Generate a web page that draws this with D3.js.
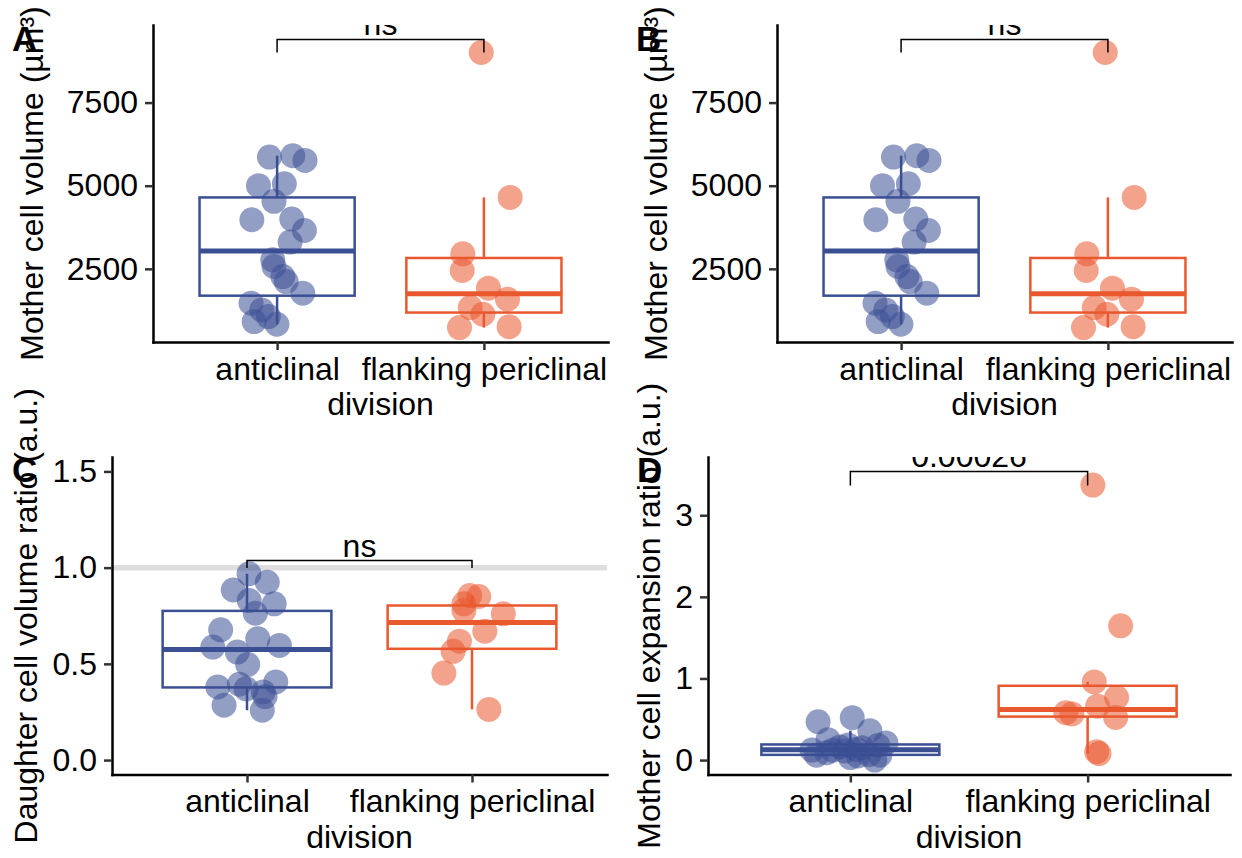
<!DOCTYPE html>
<html>
<head>
<meta charset="utf-8">
<script src="https://cdn.jsdelivr.net/npm/d3@7"></script>
<style>
  body { margin: 0; background: white; }
  svg { display: block; font-family: "Liberation Sans", Arial, sans-serif; }
</style>
</head>
<body>
<div id="chart"></div>
<script>
// categories
const divisions = ["anticlinal", "flanking periclinal"];

// mother cell volume (um^3), panels A and B
const volAnti = [5860, 5900, 5760, 5000, 5060, 4530, 3976, 3997, 3654, 3304, 2771, 2570, 2268, 2118, 1768, 1467, 1265, 913, 1063, 834];
const volAntiJitter = [-0.037, 0.076, 0.135, -0.09, 0.035, -0.015, -0.122, 0.071, 0.132, 0.063, -0.021, -0.015, 0.028, 0.044, 0.124, -0.126, -0.074, -0.111, -0.042, -0.001];
const volFlank = [9006, 4648, 2952, 2450, 1919, 1587, 1336, 1135, 733, 762];
const volFlankJitter = [-0.013, 0.127, -0.102, -0.105, 0.022, 0.114, -0.066, -0.005, -0.118, 0.122];

// daughter cell volume ratio, panel C
const ratioAnti = [0.968, 0.924, 0.884, 0.829, 0.812, 0.763, 0.677, 0.587, 0.631, 0.596, 0.561, 0.497, 0.380, 0.394, 0.406, 0.354, 0.259, 0.285, 0.330, 0.370];
const ratioAntiJitter = [0.009, 0.09, -0.061, 0.01, 0.121, 0.037, -0.117, -0.152, 0.048, 0.144, -0.043, 0.003, -0.13, -0.034, 0.128, 0.072, 0.068, -0.102, 0.08, -0.004];
const ratioFlank = [0.855, 0.85, 0.812, 0.777, 0.760, 0.670, 0.618, 0.565, 0.452, 0.263];
const ratioFlankJitter = [-0.01, 0.03, -0.036, -0.036, 0.139, 0.057, -0.056, -0.084, -0.125, 0.075];

// mother cell expansion ratio, panel D
const expAnti = [0.52, 0.47, 0.36, 0.25, 0.21, 0.185, 0.18, 0.16, 0.15, 0.13, 0.122, 0.12, 0.11, 0.09, 0.065, 0.06, 0.06, 0.05, 0.03, 0.00];
const expAntiJitter = [0.008, -0.136, 0.082, -0.094, 0.15, -0.009, 0.116, -0.044, 0.049, 0.026, -0.162, -0.074, -0.023, -0.1, 0.078, -0.143, 0.124, 0.032, 0.0, 0.103];
const expFlank = [3.37, 1.645, 0.958, 0.767, 0.661, 0.58, 0.565, 0.522, 0.102, 0.08];
const expFlankJitter = [0.022, 0.139, 0.028, 0.122, 0.042, -0.092, -0.066, 0.118, 0.038, 0.048];

// tick labels
const volTicks = [2500, 5000, 7500];
const ratioTicks = [0, 0.5, 1.0, 1.5];
const expTicks = [0, 1, 2, 3];
const ratioLimits = [0, 1.5];
const ratioRef = 1.0;

// significance brackets: A, B, C, D
const sigLabels = ["ns", "ns", "ns", "0.00026"];
const sigBar = [9400, 9400, 1.037, 3.537];
const sigTip = [9006, 9006, 0.998, 3.366];

const colors = ["#3B4F93", "#E9582E"];
const fontSize = 32;

const svg = d3.select("#chart").append("svg")
  .attr("width", 1242)
  .attr("height", 858);

const panels = [
  { tag: "A", left: 153, right: 608, top: 25, bottom: 342, titleX: 43, tagX: 12, tagY: 51,
    title: "Mother cell volume (\u00b5m\u00b3)", groups: [[volAnti, volAntiJitter], [volFlank, volFlankJitter]],
    ticks: volTicks, fmt: d3.format("d"), sig: 0 },
  { tag: "B", left: 777, right: 1232, top: 25, bottom: 342, titleX: 667, tagX: 636, tagY: 51,
    title: "Mother cell volume (\u00b5m\u00b3)", groups: [[volAnti, volAntiJitter], [volFlank, volFlankJitter]],
    ticks: volTicks, fmt: d3.format("d"), sig: 1 },
  { tag: "C", left: 112, right: 607, top: 457, bottom: 774.5, titleX: 37, tagX: 12, tagY: 482,
    title: "Daughter cell volume ratio (a.u.)", groups: [[ratioAnti, ratioAntiJitter], [ratioFlank, ratioFlankJitter]],
    ticks: ratioTicks, fmt: d3.format(".1f"), sig: 2, limits: ratioLimits, ref: ratioRef },
  { tag: "D", left: 708, right: 1230, top: 457, bottom: 774.5, titleX: 660, tagX: 637, tagY: 482,
    title: "Mother cell expansion ratio (a.u.)", groups: [[expAnti, expAntiJitter], [expFlank, expFlankJitter]],
    ticks: expTicks, fmt: d3.format("d"), sig: 3 }
];

function boxStats(values) {
  const s = values.slice().sort(d3.ascending);
  const q1 = d3.quantile(s, 0.25), med = d3.quantile(s, 0.5), q3 = d3.quantile(s, 0.75);
  const iqr = q3 - q1;
  const lo = d3.min(s.filter(v => v >= q1 - 1.5 * iqr));
  const hi = d3.max(s.filter(v => v <= q3 + 1.5 * iqr));
  return { q1, med, q3, lo, hi };
}

panels.forEach((p, i) => {
  const g = svg.append("g");

  // y domain with ggplot's 5% expansion
  let lims = p.limits;
  if (!lims) {
    const all = p.groups[0][0].concat(p.groups[1][0]);
    lims = [d3.min(all), Math.max(d3.max(all), sigBar[p.sig])];
  }
  const pad = (lims[1] - lims[0]) * 0.05;
  const y = d3.scaleLinear().domain([lims[0] - pad, lims[1] + pad]).range([p.bottom, p.top]);
  const x = d3.scalePoint().domain(divisions).range([p.left, p.right]).padding(0.6);
  const step = x.step();

  const clipId = "clip" + p.tag;
  svg.append("clipPath").attr("id", clipId)
    .append("rect")
    .attr("x", p.left).attr("y", p.top)
    .attr("width", p.right - p.left).attr("height", p.bottom - p.top);

  const plot = g.append("g").attr("clip-path", `url(#${clipId})`);

  if (p.ref !== undefined) {
    plot.append("line")
      .attr("x1", p.left).attr("x2", p.right)
      .attr("y1", y(p.ref)).attr("y2", y(p.ref))
      .attr("stroke", "#DEDEDE")
      .attr("stroke-width", 5.5);
  }

  // boxplots
  p.groups.forEach((grp, k) => {
    const st = boxStats(grp[0]);
    const cx = x(divisions[k]);
    const bw = step * 0.75;
    const col = colors[k];
    plot.append("line")
      .attr("x1", cx).attr("x2", cx).attr("y1", y(st.q3)).attr("y2", y(st.hi))
      .attr("stroke", col).attr("stroke-width", 2.5);
    plot.append("line")
      .attr("x1", cx).attr("x2", cx).attr("y1", y(st.q1)).attr("y2", y(st.lo))
      .attr("stroke", col).attr("stroke-width", 2.5);
    plot.append("rect")
      .attr("x", cx - bw / 2).attr("width", bw)
      .attr("y", y(st.q3)).attr("height", y(st.q1) - y(st.q3))
      .attr("fill", "white").attr("stroke", col).attr("stroke-width", 2.5);
    plot.append("line")
      .attr("x1", cx - bw / 2).attr("x2", cx + bw / 2)
      .attr("y1", y(st.med)).attr("y2", y(st.med))
      .attr("stroke", col).attr("stroke-width", 5);
  });

  // jittered points
  p.groups.forEach((grp, k) => {
    const cx = x(divisions[k]);
    plot.append("g").selectAll("circle")
      .data(grp[0])
      .enter()
      .append("circle")
      .attr("cx", (d, j) => cx + grp[1][j] * step)
      .attr("cy", d => y(d))
      .attr("r", 12.5)
      .attr("fill", colors[k])
      .attr("fill-opacity", 0.55);
  });

  // significance bracket
  const x1 = x(divisions[0]), x2 = x(divisions[1]);
  const s = p.sig;
  plot.append("path")
    .attr("d", `M${x1},${y(sigTip[s])}V${y(sigBar[s])}H${x2}V${y(sigTip[s])}`)
    .attr("fill", "none").attr("stroke", "black").attr("stroke-width", 1.5);
  plot.append("text")
    .attr("x", (x1 + x2) / 2)
    .attr("y", y(sigBar[s]) - 4)
    .attr("text-anchor", "middle")
    .style("font-size", fontSize + "px")
    .text(sigLabels[s]);

  // axes
  const yAxis = d3.axisLeft(y).tickValues(p.ticks).tickFormat(p.fmt)
    .tickSize(8).tickPadding(7).tickSizeOuter(0);
  const xAxis = d3.axisBottom(x).tickSize(8).tickPadding(7).tickSizeOuter(0);

  const ya = g.append("g").attr("transform", `translate(${p.left},0)`).call(yAxis);
  const xa = g.append("g").attr("transform", `translate(0,${p.bottom})`).call(xAxis);
  [ya, xa].forEach(a => {
    a.attr("font-family", null).attr("font-size", null);
    a.select(".domain").attr("stroke", "black").attr("stroke-width", 2.5)
      .attr("stroke-linecap", "square");
    a.selectAll(".tick line").attr("stroke", "#333333").attr("stroke-width", 2.5);
    a.selectAll(".tick text").attr("fill", "black").style("font-size", fontSize + "px");
  });

  // axis titles
  g.append("text")
    .attr("transform", `translate(${p.titleX},${(p.top + p.bottom) / 2}) rotate(-90)`)
    .attr("text-anchor", "middle")
    .style("font-size", fontSize + "px")
    .text(p.title);
  g.append("text")
    .attr("x", (p.left + p.right) / 2)
    .attr("y", p.bottom + 73)
    .attr("text-anchor", "middle")
    .style("font-size", fontSize + "px")
    .text("division");
});

// panel tags drawn last
panels.forEach(p => {
  svg.append("text")
    .attr("x", p.tagX).attr("y", p.tagY)
    .style("font-size", "35px").style("font-weight", "bold")
    .text(p.tag);
});
</script>
</body>
</html>
